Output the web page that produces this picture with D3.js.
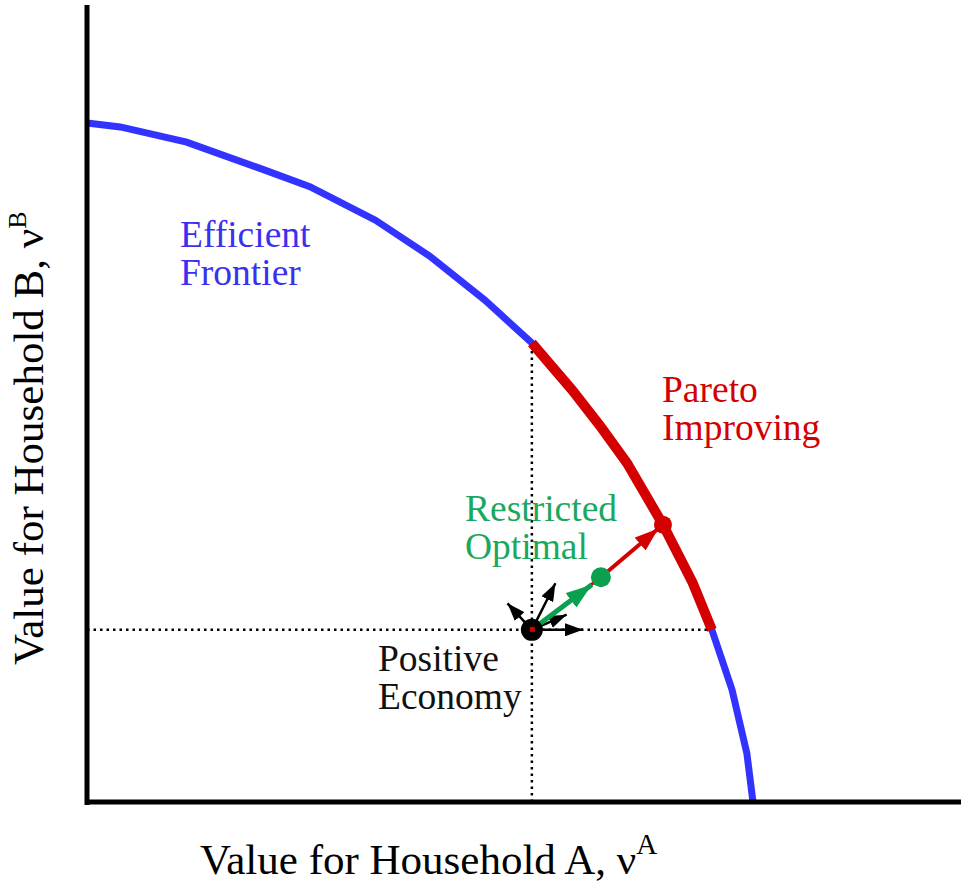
<!DOCTYPE html>
<html>
<head>
<meta charset="utf-8">
<script src="https://cdn.jsdelivr.net/npm/d3@7"></script>
<style>
  body { margin: 0; background: #fff; }
  svg { display: block; }
  text { font-family: "Liberation Serif", "Times New Roman", serif; }
</style>
</head>
<body>
<svg id="chart" width="961" height="884"></svg>
<script>
// frontier in data units (value for A, value for B)
const frontierA = [0, 0.38, 1.14, 1.98, 2.55, 3.30, 3.92, 4.55, 5.09, 5.55, 5.87, 6.18, 6.59, 6.93, 7.15, 7.38, 7.55, 7.62];
const frontierB = [8.52, 8.47, 8.28, 7.95, 7.72, 7.30, 6.85, 6.30, 5.76, 5.17, 4.72, 4.25, 3.48, 2.75, 2.16, 1.41, 0.61, 0];

// the three economies
const positiveEconomy = [5.09, 2.16];
const restrictedOptimal = [5.88, 2.82];
const paretoPoint = [6.59, 3.48];

// small black direction arrows out of the positive economy
const gradientEndsA = [5.72, 5.38, 4.78, 5.53];
const gradientEndsB = [2.16, 2.79, 2.53, 2.37];

const labels = {
    frontier: ['Efficient', 'Frontier'],
    pareto: ['Pareto', 'Improving'],
    restricted: ['Restricted', 'Optimal'],
    positive: ['Positive', 'Economy']
};

const svg = d3.select('#chart');

const x = d3.scaleLinear().domain([0, 10]).range([87, 961]);
const y = d3.scaleLinear().domain([0, 10]).range([802, 5]);

const frontier = frontierA.map((a, i) => [a, frontierB[i]]);
const paretoPart = frontier.filter(d => d[0] >= positiveEconomy[0] - 0.01 && d[1] >= positiveEconomy[1] - 0.01);

const line = d3.line().x(d => x(d[0])).y(d => y(d[1]));

// arrow heads
const defs = svg.append('defs');
function marker(id, color, len, wid) {
    defs.append('marker')
        .attr('id', id)
        .attr('viewBox', '0 0 10 10')
        .attr('refX', 10).attr('refY', 5)
        .attr('markerUnits', 'userSpaceOnUse')
        .attr('markerWidth', len).attr('markerHeight', wid)
        .attr('orient', 'auto')
        .attr('preserveAspectRatio', 'none')
        .append('path')
        .attr('d', 'M0,0 L10,5 L0,10 Z')
        .attr('fill', color);
}
marker('head-black', '#000', 18, 13);
marker('head-green', '#0aa04f', 26, 18);
marker('head-red', '#d40000', 24, 17);

// dotted guide lines
svg.append('line')
    .attr('x1', x(positiveEconomy[0])).attr('x2', x(positiveEconomy[0]))
    .attr('y1', y(0)).attr('y2', y(frontierB[frontierA.indexOf(5.09)]))
    .attr('stroke', '#000').attr('stroke-width', 2.5).attr('stroke-dasharray', '2.5,4');
svg.append('line')
    .attr('x1', x(0)).attr('x2', x(7.15))
    .attr('y1', y(positiveEconomy[1])).attr('y2', y(positiveEconomy[1]))
    .attr('stroke', '#000').attr('stroke-width', 2.5).attr('stroke-dasharray', '2.5,4');

// frontier
svg.append('path')
    .attr('d', line(frontier))
    .attr('fill', 'none').attr('stroke', '#3333ff').attr('stroke-width', 7);
svg.append('path')
    .attr('d', line(paretoPart))
    .attr('fill', 'none').attr('stroke', '#d40000').attr('stroke-width', 10);

// axes
svg.append('line')
    .attr('x1', x(0)).attr('x2', x(0)).attr('y1', y(10)).attr('y2', y(0) + 3)
    .attr('stroke', '#000').attr('stroke-width', 5);
svg.append('line')
    .attr('x1', x(0) - 2).attr('x2', x(10)).attr('y1', y(0)).attr('y2', y(0))
    .attr('stroke', '#000').attr('stroke-width', 5);

// shorten an arrow so its tip stops at the edge of a dot
function shorten(p0, p1, px) {
    const x0 = x(p0[0]), y0 = y(p0[1]), x1 = x(p1[0]), y1 = y(p1[1]);
    const len = Math.hypot(x1 - x0, y1 - y0);
    const k = (len - px) / len;
    return [x0, y0, x0 + (x1 - x0) * k, y0 + (y1 - y0) * k];
}

// black gradient arrows
gradientEndsA.forEach((a, i) => {
    const b = shorten(positiveEconomy, [a, gradientEndsB[i]], 4);
    svg.append('line')
        .attr('x1', b[0]).attr('y1', b[1]).attr('x2', b[2]).attr('y2', b[3])
        .attr('stroke', '#000').attr('stroke-width', 2.5)
        .attr('marker-end', 'url(#head-black)');
});

// thin red direction under green arrow
svg.append('line')
    .attr('x1', x(positiveEconomy[0])).attr('y1', y(positiveEconomy[1]))
    .attr('x2', x(restrictedOptimal[0])).attr('y2', y(restrictedOptimal[1]))
    .attr('stroke', '#d40000').attr('stroke-width', 3);

// green arrow
const g = shorten(positiveEconomy, restrictedOptimal, 9);
svg.append('line')
    .attr('x1', g[0]).attr('y1', g[1]).attr('x2', g[2] - 2).attr('y2', g[3] + 2)
    .attr('stroke', '#0aa04f').attr('stroke-width', 5)
    .attr('marker-end', 'url(#head-green)');

// red arrow
const r = shorten(restrictedOptimal, paretoPoint, 6);
svg.append('line')
    .attr('x1', r[0]).attr('y1', r[1]).attr('x2', r[2]).attr('y2', r[3])
    .attr('stroke', '#d40000').attr('stroke-width', 4)
    .attr('marker-end', 'url(#head-red)');

// dots
svg.append('circle').attr('cx', x(positiveEconomy[0])).attr('cy', y(positiveEconomy[1])).attr('r', 11).attr('fill', '#000');
svg.append('circle').attr('cx', x(restrictedOptimal[0])).attr('cy', y(restrictedOptimal[1])).attr('r', 10).attr('fill', '#0aa04f');
svg.append('circle').attr('cx', x(paretoPoint[0])).attr('cy', y(paretoPoint[1])).attr('r', 9).attr('fill', '#d40000');

// a tiny red mark at the positive economy
svg.append('rect')
    .attr('x', x(positiveEconomy[0]) - 2).attr('y', y(positiveEconomy[1]) - 3)
    .attr('width', 5).attr('height', 5).attr('fill', '#d40000');

// text labels
function twoLines(lines, left, base, color) {
    lines.forEach((t, i) => {
        svg.append('text')
            .attr('x', left).attr('y', base + i * 38)
            .attr('font-size', 37.5).attr('fill', color)
            .text(t);
    });
}
twoLines(labels.frontier, 180, 247, '#3b2ff0');
twoLines(labels.pareto, 662, 402, '#d40000');
twoLines(labels.restricted, 465, 521, '#1aa860');
twoLines(labels.positive, 378, 671, '#111');

// axis titles
const xt = svg.append('text')
    .attr('x', 200).attr('y', 874)
    .attr('font-size', 43).attr('fill', '#000');
xt.append('tspan').text('Value for Household A, \u03bd');
xt.append('tspan').attr('dy', -20).attr('font-size', 29).text('A');

const yt = svg.append('text')
    .attr('transform', 'translate(43,665) rotate(-90)')
    .attr('font-size', 43).attr('fill', '#000');
yt.append('tspan').text('Value for Household B, \u03bd');
yt.append('tspan').attr('dy', -17).attr('font-size', 26).text('B');
</script>
</body>
</html>
